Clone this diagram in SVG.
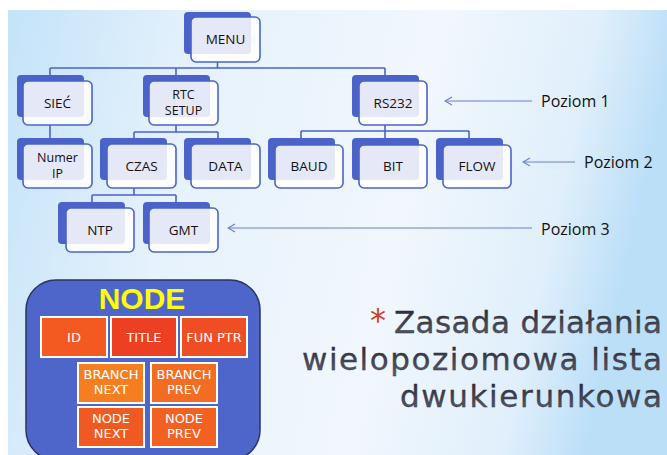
<svg xmlns="http://www.w3.org/2000/svg" width="667" height="455" viewBox="0 0 667 455">
<defs>
<linearGradient id="bg" x1="0" y1="0" x2="1" y2="0.15">
<stop offset="0" stop-color="#c4e3f9"/>
<stop offset="0.3" stop-color="#e6f2fc"/>
<stop offset="0.65" stop-color="#f1f7fd"/>
<stop offset="0.88" stop-color="#e0effb"/>
<stop offset="1" stop-color="#bcdff8"/>
</linearGradient>
<linearGradient id="tg" x1="0" y1="0" x2="0" y2="1">
<stop offset="0" stop-color="#22232c"/>
<stop offset="1" stop-color="#5e6070"/>
</linearGradient>
<marker id="ah" markerWidth="10" markerHeight="10" refX="1" refY="5" orient="auto" markerUnits="userSpaceOnUse">
<path d="M8 1 L1 5 L8 9" fill="none" stroke="#6a7fd2" stroke-width="1.2"/>
</marker>
<style>
.bk{fill:#4b63c8}
.fr{fill:#ffffff;fill-opacity:0.86;stroke:#4b63c8;stroke-width:1.6}
.nt{font-family:"Open Sans","Noto Sans",sans-serif;font-size:13.5px;fill:#111;text-anchor:middle}
.n2{font-size:12.5px}
.cn{fill:none;stroke:#4b63c8;stroke-width:1.6}
.ar{fill:none;stroke:#6a7fd2;stroke-width:1.2;marker-start:url(#ah)}
.lv{font-family:"Open Sans","Noto Sans",sans-serif;font-size:16px;fill:#111}
.ob{stroke:#ffffff;stroke-width:2}
.ot{font-family:"DejaVu Sans",sans-serif;font-size:13px;fill:#ffffff;text-anchor:middle}
.ti{font-family:"DejaVu Sans",sans-serif;font-size:31px;fill:url(#tg);stroke:#2a2b34;stroke-width:0.3;text-anchor:end}
</style>
</defs>
<rect x="0" y="0" width="667" height="455" fill="#ffffff"/>
<rect x="8" y="10" width="659" height="445" fill="url(#bg)"/>

<g id="connectors">
<path class="cn" d="M217.5 62 V68 M50 68 H385 M50 68 V75 M176 68 V75 M385 68 V75"/>
<path class="cn" d="M50 125 V138"/>
<path class="cn" d="M176 125 V132 M134 132 H218 M134 132 V138 M218 132 V138"/>
<path class="cn" d="M385 125 V131 M301 131 H469 M301 131 V138 M385 131 V138 M469 131 V138"/>
<path class="cn" d="M134 188 V195 M92 195 H176 M92 195 V202 M176 195 V202"/>
<line class="ar" x1="445" y1="101" x2="532" y2="101"/>
<line class="ar" x1="523" y1="162" x2="575" y2="162"/>
<line class="ar" x1="228" y1="228" x2="532" y2="228"/>
</g>

<g id="menu"><rect class="bk" x="184" y="12" width="67" height="42" rx="4"/><rect class="fr" x="191" y="17" width="69" height="45" rx="5"/><text class="nt" x="225.5" y="44">MENU</text></g>
<g id="siec"><rect class="bk" x="17" y="75" width="67" height="42" rx="4"/><rect class="fr" x="23" y="81" width="69" height="44" rx="5"/><text class="nt" x="57.5" y="108">SIEĆ</text></g>
<g id="rtc"><rect class="bk" x="143" y="75" width="67" height="42" rx="4"/><rect class="fr" x="149" y="81" width="69" height="44" rx="5"/><text class="nt n2" x="183.5" y="99">RTC</text><text class="nt n2" x="183.5" y="115">SETUP</text></g>
<g id="rs232"><rect class="bk" x="352" y="75" width="67" height="42" rx="4"/><rect class="fr" x="359" y="81" width="68" height="44" rx="5"/><text class="nt" x="393" y="108">RS232</text></g>
<g id="numerip"><rect class="bk" x="17" y="138" width="67" height="42" rx="4"/><rect class="fr" x="23" y="144" width="69" height="44" rx="5"/><text class="nt n2" x="57.5" y="162">Numer</text><text class="nt n2" x="57.5" y="178">IP</text></g>
<g id="czas"><rect class="bk" x="100" y="138" width="67" height="42" rx="4"/><rect class="fr" x="107" y="144" width="69" height="44" rx="5"/><text class="nt" x="141.5" y="171">CZAS</text></g>
<g id="data"><rect class="bk" x="184" y="138" width="67" height="42" rx="4"/><rect class="fr" x="191" y="144" width="69" height="44" rx="5"/><text class="nt" x="225.5" y="171">DATA</text></g>
<g id="baud"><rect class="bk" x="268" y="138" width="67" height="42" rx="4"/><rect class="fr" x="275" y="145" width="68" height="43" rx="5"/><text class="nt" x="309" y="171">BAUD</text></g>
<g id="bit"><rect class="bk" x="352" y="138" width="67" height="42" rx="4"/><rect class="fr" x="359" y="145" width="68" height="43" rx="5"/><text class="nt" x="393" y="171">BIT</text></g>
<g id="flow"><rect class="bk" x="436" y="138" width="67" height="42" rx="4"/><rect class="fr" x="443" y="145" width="68" height="43" rx="5"/><text class="nt" x="477" y="171">FLOW</text></g>
<g id="ntp"><rect class="bk" x="58" y="202" width="67" height="42" rx="4"/><rect class="fr" x="66" y="208" width="68" height="44" rx="5"/><text class="nt" x="100" y="235">NTP</text></g>
<g id="gmt"><rect class="bk" x="143" y="202" width="67" height="42" rx="4"/><rect class="fr" x="149" y="208" width="69" height="44" rx="5"/><text class="nt" x="183.5" y="235">GMT</text></g>

<g id="levels">
<text class="lv" x="541" y="107">Poziom 1</text>
<text class="lv" x="584" y="168">Poziom 2</text>
<text class="lv" x="541" y="235">Poziom 3</text>
</g>

<g id="node">
<rect x="26" y="280" width="234" height="180" rx="30" fill="#4e66c9" stroke="#2b3360" stroke-width="1.5"/>
<text x="142" y="309" font-family="'Liberation Sans',Arial,sans-serif" font-weight="bold" font-size="30" fill="#ffff00" text-anchor="middle">NODE</text>
<rect class="ob" x="41" y="317" width="66" height="40" fill="#f25a22"/><text class="ot" x="74" y="342">ID</text>
<rect class="ob" x="111" y="317" width="66" height="40" fill="#ec3f24"/><text class="ot" x="144" y="342">TITLE</text>
<rect class="ob" x="181" y="317" width="66" height="40" fill="#ef4d23"/><text class="ot" x="214" y="342">FUN PTR</text>
<rect class="ob" x="78" y="363" width="66" height="40" fill="#f57f20"/><text class="ot" x="111" y="379">BRANCH</text><text class="ot" x="111" y="394">NEXT</text>
<rect class="ob" x="151" y="363" width="66" height="40" fill="#f26c22"/><text class="ot" x="184" y="379">BRANCH</text><text class="ot" x="184" y="394">PREV</text>
<rect class="ob" x="78" y="407" width="66" height="40" fill="#f05a22"/><text class="ot" x="111" y="423">NODE</text><text class="ot" x="111" y="438">NEXT</text>
<rect class="ob" x="151" y="407" width="66" height="40" fill="#f26022"/><text class="ot" x="184" y="423">NODE</text><text class="ot" x="184" y="438">PREV</text>
</g>

<g id="title">
<text x="378" y="331" font-family="'DejaVu Sans',sans-serif" font-size="32" fill="#d23a25" text-anchor="middle">*</text>
<text class="ti" x="662" y="333" textLength="268" lengthAdjust="spacing">Zasada działania</text>
<text class="ti" x="662" y="370" textLength="360" lengthAdjust="spacing">wielopoziomowa lista</text>
<text class="ti" x="662" y="407" textLength="262" lengthAdjust="spacing">dwukierunkowa</text>
</g>
</svg>
